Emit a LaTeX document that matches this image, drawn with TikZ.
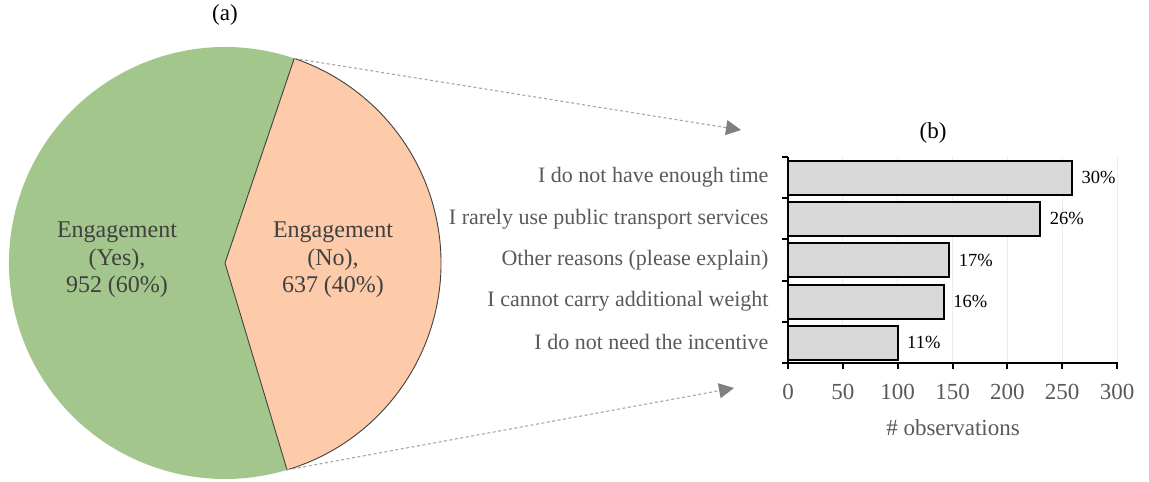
\documentclass[tikz,border=0pt]{standalone}
\usepackage{fontspec}
\setmainfont{Liberation Serif}
\usetikzlibrary{calc}
\usetikzlibrary{arrows.meta}

\definecolor{yesgreen}{HTML}{A3C68C}
\definecolor{nopeach}{HTML}{FDCBAA}
\definecolor{bargray}{HTML}{D9D9D9}
\definecolor{labgray}{HTML}{595959}
\definecolor{piegray}{HTML}{404040}
\definecolor{gridgray}{HTML}{EDEDED}

\begin{document}
\begin{tikzpicture}[x=1pt,y=-1pt,
  pielabel/.style={align=center,text=piegray,font=\fontsize{24}{27.5}\selectfont},
  catlabel/.style={anchor=east,text=labgray,font=\fontsize{22}{26}\selectfont},
  ticklabel/.style={text=labgray,font=\fontsize{23}{26}\selectfont},
  pctlabel/.style={anchor=west,font=\fontsize{18.5}{22}\selectfont},
  caption/.style={font=\fontsize{23}{26}\selectfont},
  barbox/.style={fill=bargray,draw=black,line width=2pt},
  zoomline/.style={draw=black!35,line width=1.1pt,dash pattern=on 3pt off 2.5pt,
    -{Triangle[length=15pt,width=15pt,color=black!50]}}]
  % Constants
  \pgfmathsetmacro\ox{788}
  \pgfmathsetmacro\oy{363}
  \pgfmathsetmacro\sx{1.0967}
  \pgfmathsetmacro\bh{41.2}
  % Boundary
  \path[use as bounding box] (0,0) rectangle (1149,482);
  % Pie
  \begin{scope}[shift={(225,263)},yscale=-1]
    \fill[yesgreen] (0,0) -- (71.3:216) arc (71.3:286.7:216) -- cycle;
    \filldraw[fill=nopeach,draw=black!75,line width=0.9pt] (0,0) -- (-73.3:216) arc (-73.3:71.3:216) -- cycle;
    \coordinate (top) at (71.3:216);
    \coordinate (bot) at (-73.3:216);
  \end{scope}
  \node[pielabel] (yes) at (117,260) {Engagement\\(Yes),\\952 (60\%)};
  \node[pielabel] (no) at (333,260) {Engagement\\(No),\\637 (40\%)};
  \node[caption] (capa) at (225,15) {(a)};
  % Zoom arrows
  \coordinate (tipa) at (741,130);
  \coordinate (tipb) at (734,388);
  \draw[zoomline] (top) -- (tipa);
  \draw[zoomline] (bot) -- (tipb);
  % Bar chart
  \node[caption] (capb) at (933,133) {(b)};
  \foreach \v in {50,100,...,300}
    \draw[gridgray,line width=1pt] (\ox+\v*\sx,157) -- (\ox+\v*\sx,\oy);
  \foreach \v/\p/\t [count=\i from 0] in {259/30/I do not have enough time,
      230/26/I rarely use public transport services,
      147/17/Other reasons (please explain),
      142/16/I cannot carry additional weight,
      100/11/I do not need the incentive} {
    \draw[barbox] (\ox,157+\i*\bh+4) rectangle (\ox+\v*\sx,157+\i*\bh+38);
    \node[pctlabel] (pct\i) at (\ox+\v*\sx+6,157+\i*\bh+\bh/2) {\p\%};
    \node[catlabel] (cat\i) at (772,157+\i*\bh+\bh/2) {\t};
  }
  % Axes
  \draw[line width=2pt] (\ox,157) -- (\ox,\oy);
  \draw[line width=2pt] (\ox-6,\oy) -- (\ox+300*\sx+1,\oy);
  \foreach \k in {0,...,4}
    \draw[line width=2pt] (\ox-6,157+\k*\bh) -- (\ox,157+\k*\bh);
  \foreach \v in {0,50,...,300} {
    \draw[line width=2pt] (\ox+\v*\sx,\oy) -- (\ox+\v*\sx,\oy+6);
    \node[ticklabel] (tick\v) at (\ox+\v*\sx,392) {\v};
  }
  \node[ticklabel] (xlab) at (953,428) {\# observations};
\end{tikzpicture}
\end{document}
